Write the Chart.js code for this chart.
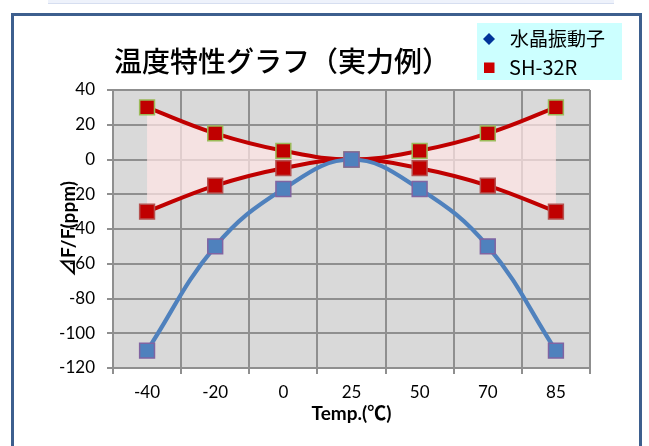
<!DOCTYPE html>
<html>
<head>
<meta charset="utf-8">
<script src="https://cdn.jsdelivr.net/npm/chart.js@4"></script>
<style>
html,body{margin:0;padding:0;background:#fff;}
#wrap{position:relative;width:649px;height:446px;}
</style>
</head>
<body>
<div id="wrap"><canvas id="c" width="649" height="446"></canvas></div>
<script>
// ---- data ----
const temps = ['-40', '-20', '0', '25', '50', '70', '85'];
const crystal = [-110, -50, -17, 0, -17, -50, -110];
const shUpper = [30, 15, 5, 0, 5, 15, 30];
const shLower = [-30, -15, -5, 0, -5, -15, -30];
const yTicks = [-120, -100, -80, -60, -40, -20, 0, 20, 40];
const chartTitle = '温度特性グラフ（実力例）';
const xTitle = 'Temp.(℃)';
const yTitle = '⊿F/F(ppm)';
const seriesNames = ['水晶振動子', 'SH-32R'];

const LATIN = "Lato, 'Noto Sans CJK JP', sans-serif";
const CJK = "'Noto Sans CJK JP', sans-serif";

const decor = {
  id: 'decor',
  beforeDraw(chart) {
    const ctx = chart.ctx;
    ctx.save();
    ctx.fillStyle = '#ffffff';
    ctx.fillRect(0, 0, chart.width, chart.height);
    // faint strip at the top
    ctx.fillStyle = '#eef2fb';
    ctx.fillRect(48, 0, 566, 3);
    ctx.strokeStyle = '#d6def0';
    ctx.lineWidth = 1;
    ctx.beginPath();
    ctx.moveTo(48, 3.5); ctx.lineTo(614, 3.5);
    ctx.stroke();
    // frame
    ctx.strokeStyle = '#3d5f8e';
    ctx.lineWidth = 3;
    ctx.beginPath();
    ctx.moveTo(12.5, 460); ctx.lineTo(12.5, 14.5); ctx.lineTo(640.5, 14.5); ctx.lineTo(640.5, 460);
    ctx.stroke();
    // plot background
    const a = chart.chartArea;
    ctx.fillStyle = '#d9d9d9';
    ctx.fillRect(a.left, a.top, a.right - a.left, a.bottom - a.top);
    ctx.restore();
  },
  afterDraw(chart) {
    const ctx = chart.ctx;
    ctx.save();
    // title
    ctx.fillStyle = '#000';
    ctx.font = "500 28px " + CJK;
    ctx.textBaseline = 'middle';
    ctx.textAlign = 'left';
    ctx.fillText(chartTitle, 114, 61);
    // legend
    ctx.fillStyle = '#ccffff';
    ctx.fillRect(477, 23, 145, 57);
    ctx.fillStyle = '#003399';
    ctx.beginPath();
    ctx.moveTo(489, 33); ctx.lineTo(495, 39); ctx.lineTo(489, 45); ctx.lineTo(483, 39);
    ctx.closePath(); ctx.fill();
    ctx.fillStyle = '#cc0000';
    ctx.fillRect(484, 62.5, 10.5, 10.5);
    ctx.fillStyle = '#000';
    ctx.font = "19px " + CJK;
    ctx.fillText(chart.data.datasets[0].label, 510, 39);
    ctx.font = "20px " + CJK;
    ctx.fillText(chart.data.datasets[1].label, 509, 67);
    ctx.restore();
  }
};

new Chart(document.getElementById('c'), {
  type: 'line',
  data: {
    labels: temps,
    datasets: [
      {
        label: seriesNames[0],
        data: crystal,
        borderColor: '#4f81bd',
        borderWidth: 4.2,
        tension: 0.4,
        pointStyle: 'rect',
        pointRadius: 10.5,
        pointBackgroundColor: '#4f81bd',
        pointBorderColor: '#8064a2',
        pointBorderWidth: 1.5,
        fill: false,
        order: 0
      },
      {
        label: seriesNames[1],
        data: shUpper,
        borderColor: '#c00000',
        borderWidth: 4,
        tension: 0.4,
        pointStyle: 'rect',
        pointRadius: 10.5,
        pointBackgroundColor: '#c00000',
        pointBorderColor: '#9bbb59',
        pointBorderWidth: 1.5,
        fill: '+1',
        backgroundColor: 'rgba(255,228,228,0.72)',
        order: 1
      },
      {
        label: seriesNames[1] + ' (min)',
        data: shLower,
        borderColor: '#c00000',
        borderWidth: 4,
        tension: 0.4,
        pointStyle: 'rect',
        pointRadius: 10.5,
        pointBackgroundColor: '#c00000',
        pointBorderColor: '#b5514f',
        pointBorderWidth: 1.5,
        fill: false,
        order: 2
      }
    ]
  },
  options: {
    responsive: false,
    animation: false,
    devicePixelRatio: 1,
    layout: { padding: { left: 14, right: 59, top: 90, bottom: 20 } },
    plugins: {
      legend: { display: false },
      title: { display: false },
      tooltip: { enabled: false },
      filler: { propagate: false, drawTime: 'beforeDatasetsDraw' }
    },
    scales: {
      x: {
        type: 'category',
        offset: true,
        grid: { offset: true, color: '#8f8f8f', lineWidth: 2, tickLength: 6, drawTicks: true },
        border: { color: '#8f8f8f', width: 2 },
        ticks: { color: '#000', font: { family: LATIN, size: 17 }, padding: 8, maxRotation: 0 },
        title: { display: true, text: xTitle, color: '#000', font: { family: LATIN, size: 19, weight: 'bold' }, padding: { top: 0, bottom: 1 } },
        afterFit(s) { s.height = 58; }
      },
      y: {
        min: yTicks[0],
        max: yTicks[yTicks.length - 1],
        afterBuildTicks(s) { s.ticks = yTicks.map(v => ({ value: v })); },
        grid: { color: '#8f8f8f', lineWidth: 2, tickLength: 6, drawTicks: true },
        border: { color: '#8f8f8f', width: 2 },
        ticks: { color: '#000', font: { family: LATIN, size: 17 }, padding: 12 },
        title: { display: true, text: yTitle, color: '#000', font: { family: LATIN, size: 19, weight: 'bold' }, padding: { top: 43, bottom: 0 } },
        afterFit(s) { s.width = 99; }
      }
    }
  },
  plugins: [decor]
});
</script>
</body>
</html>
